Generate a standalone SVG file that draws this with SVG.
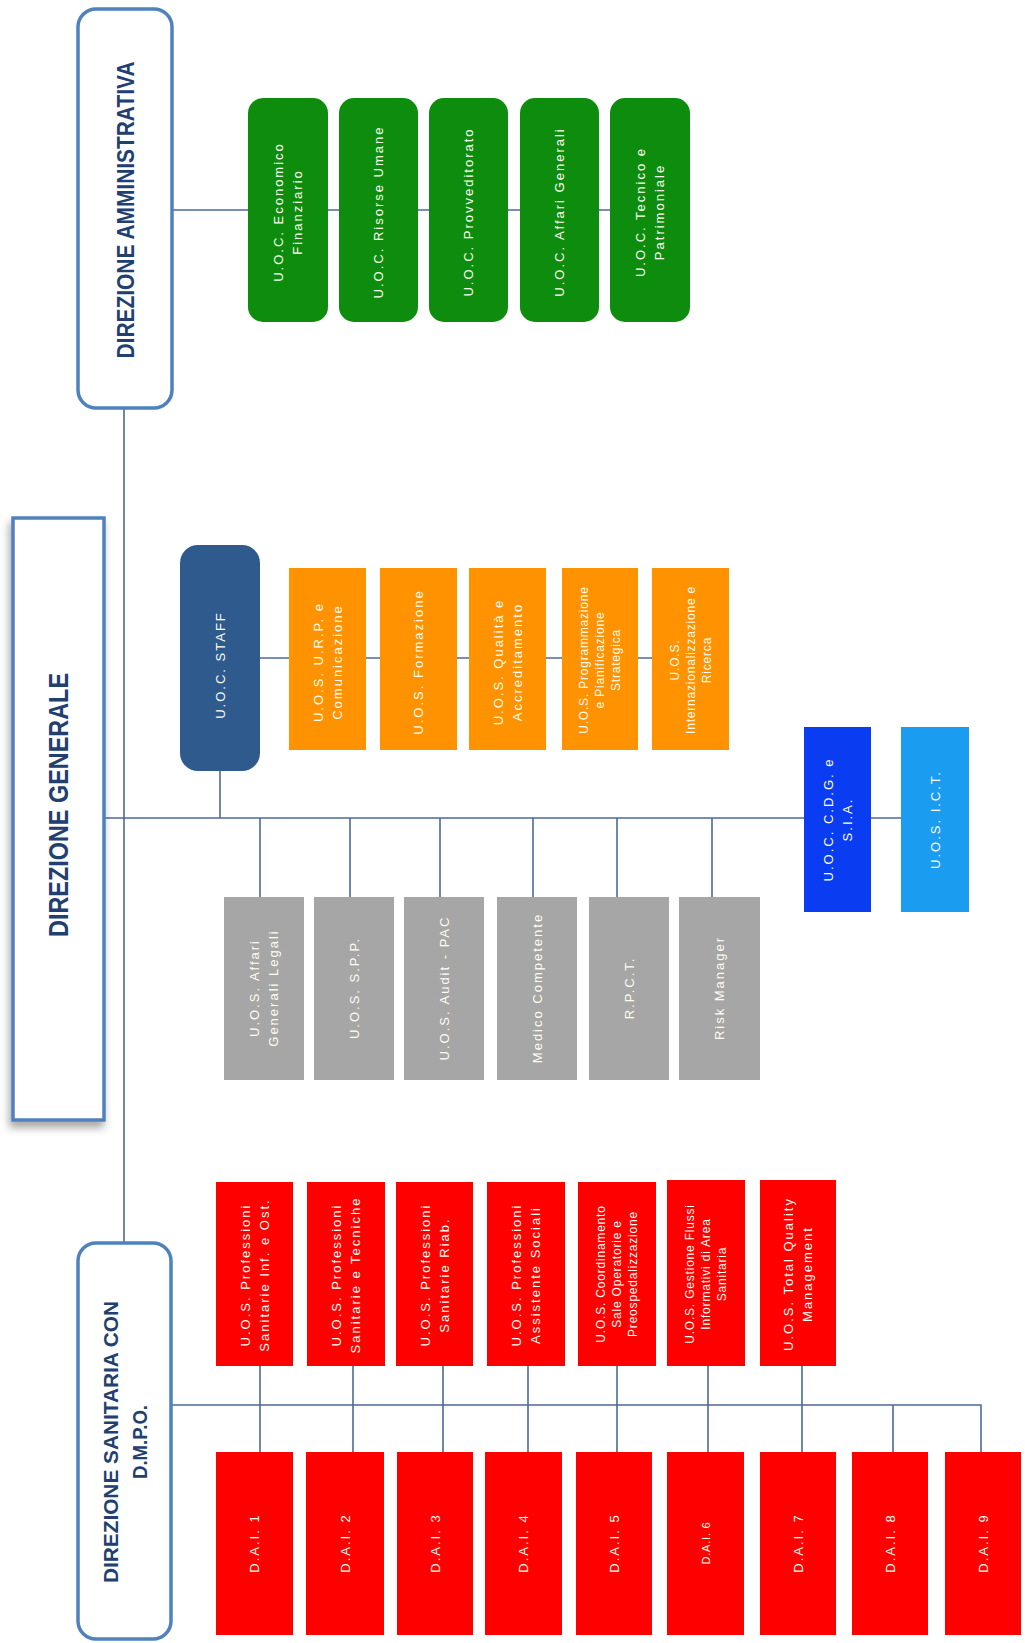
<svg xmlns="http://www.w3.org/2000/svg" width="1025" height="1643" viewBox="0 0 1025 1643">
<defs>
<filter id="sh" x="-30%" y="-10%" width="160%" height="120%">
<feDropShadow dx="-2" dy="6" stdDeviation="4" flood-color="#000" flood-opacity="0.35"/>
</filter>
<filter id="sh2" x="-20%" y="-10%" width="140%" height="120%">
<feDropShadow dx="1" dy="2" stdDeviation="1.5" flood-color="#000" flood-opacity="0.25"/>
</filter>
</defs>
<style>
.hdr{fill:#fff;stroke:#4f81bd;stroke-width:3.5}
.ht{font-family:"Liberation Sans",Arial,sans-serif;font-weight:bold;fill:#22406f;text-anchor:middle}
.t{font-family:"Liberation Sans",Arial,sans-serif;font-size:13px;letter-spacing:2px;fill:#fffdf2;text-anchor:middle}
.t3{font-family:"Liberation Sans",Arial,sans-serif;font-size:12px;letter-spacing:0.8px;fill:#fffdf2;text-anchor:middle}
.green{fill:#0d8c0d}
.orange{fill:#ff9200}
.gray{fill:#a6a6a6}
.red{fill:#ff0000}
.staff{fill:#2f5a8e}
.cdg{fill:#0a3cf2}
.ict{fill:#1a9cf0}
.cn{stroke:#4a6a9c;stroke-width:1.6;fill:none}
</style>

<g id="connectors">
<path class="cn" d="M124 408 V1243"/>
<path class="cn" d="M172 210 H610"/>
<path class="cn" d="M104 818 H901"/>
<path class="cn" d="M220 771 V818"/>
<path class="cn" d="M259 658 H652"/>
<path class="cn" d="M260 818 V897 M350 818 V897 M440 818 V897 M533 818 V897 M617 818 V897 M712 818 V897"/>
<path class="cn" d="M171 1405 H981 V1452"/>
<path class="cn" d="M260 1366 V1452 M353 1366 V1452 M443 1366 V1452 M528 1366 V1452 M617 1366 V1452 M708 1366 V1452 M802 1366 V1452 M893 1405 V1452"/>
</g>

<g id="dir-amministrativa">
<rect class="hdr" x="78" y="9" width="94" height="399" rx="18"/>
<text class="ht" font-size="24" transform="translate(125,210) rotate(-90)" y="8.6" textLength="297" lengthAdjust="spacingAndGlyphs">DIREZIONE AMMINISTRATIVA</text>
</g>

<g id="dir-generale">
<rect class="hdr" x="13" y="518" width="91" height="602" filter="url(#sh)"/>
<text class="ht" font-size="28" transform="translate(58,805) rotate(-90)" y="10" textLength="264" lengthAdjust="spacingAndGlyphs">DIREZIONE GENERALE</text>
</g>

<g id="dir-sanitaria">
<rect class="hdr" x="78" y="1243" width="93" height="396" rx="18"/>
<text class="ht" font-size="21" transform="translate(124.5,1442) rotate(-90)"><tspan x="0" y="-7" textLength="282" lengthAdjust="spacingAndGlyphs">DIREZIONE SANITARIA CON</tspan><tspan x="0" y="22" textLength="74" lengthAdjust="spacingAndGlyphs">D.M.P.O.</tspan></text>
</g>

<g id="uoc-economico">
<rect class="green" x="248" y="98" width="80" height="224" rx="15"/>
<text class="t" transform="translate(288,212) rotate(-90)"><tspan x="0" y="-5">U.O.C. Economico</tspan><tspan x="0" y="14">Finanziario</tspan></text>
</g>
<g id="uoc-risorse">
<rect class="green" x="339" y="98" width="79" height="224" rx="15"/>
<text class="t" transform="translate(378.5,212) rotate(-90)" y="4.6">U.O.C. Risorse Umane</text>
</g>
<g id="uoc-provveditorato">
<rect class="green" x="429" y="98" width="79" height="224" rx="15"/>
<text class="t" transform="translate(468.5,212) rotate(-90)" y="4.6">U.O.C. Provveditorato</text>
</g>
<g id="uoc-affari">
<rect class="green" x="520" y="98" width="79" height="224" rx="15"/>
<text class="t" transform="translate(559.5,212) rotate(-90)" y="4.6">U.O.C. Affari Generali</text>
</g>
<g id="uoc-tecnico">
<rect class="green" x="610" y="98" width="80" height="224" rx="15"/>
<text class="t" transform="translate(650,212) rotate(-90)"><tspan x="0" y="-5">U.O.C. Tecnico e</tspan><tspan x="0" y="14">Patrimoniale</tspan></text>
</g>

<g id="uoc-staff">
<rect class="staff" x="180" y="545" width="80" height="226" rx="18"/>
<text class="t" transform="translate(220,665) rotate(-90)" y="4.6">U.O.C. STAFF</text>
</g>

<g id="uos-urp">
<rect class="orange" x="289" y="568" width="77" height="182"/>
<text class="t" transform="translate(327.5,662) rotate(-90)"><tspan x="0" y="-5">U.O.S. U.R.P. e</tspan><tspan x="0" y="14">Comunicazione</tspan></text>
</g>
<g id="uos-formazione">
<rect class="orange" x="380" y="568" width="77" height="182"/>
<text class="t" transform="translate(418.5,662) rotate(-90)" y="4.6">U.O.S. Formazione</text>
</g>
<g id="uos-qualita">
<rect class="orange" x="469" y="568" width="77" height="182"/>
<text class="t" transform="translate(507.5,662) rotate(-90)"><tspan x="0" y="-5">U.O.S. Qualità e</tspan><tspan x="0" y="14">Accreditamento</tspan></text>
</g>
<g id="uos-programmazione">
<rect class="orange" x="562" y="568" width="76" height="182"/>
<text class="t3" transform="translate(600,660) rotate(-90)"><tspan x="0" y="-11.7">U.O.S. Programmazione</tspan><tspan x="0" y="4.3">e Pianificazione</tspan><tspan x="0" y="20.3">Strategica</tspan></text>
</g>
<g id="uos-internazionalizzazione">
<rect class="orange" x="652" y="568" width="77" height="182"/>
<text class="t3" transform="translate(690.5,660) rotate(-90)"><tspan x="0" y="-11.7">U.O.S.</tspan><tspan x="0" y="4.3">Internazionalizzazione e</tspan><tspan x="0" y="20.3">Ricerca</tspan></text>
</g>

<g id="uos-affari-legali">
<rect class="gray" x="224" y="897" width="80" height="183"/>
<text class="t" transform="translate(264,988) rotate(-90)"><tspan x="0" y="-5">U.O.S. Affari</tspan><tspan x="0" y="14">Generali Legali</tspan></text>
</g>
<g id="uos-spp">
<rect class="gray" x="314" y="897" width="80" height="183"/>
<text class="t" transform="translate(354,988) rotate(-90)" y="4.6">U.O.S. S.P.P.</text>
</g>
<g id="uos-audit">
<rect class="gray" x="404" y="897" width="80" height="183"/>
<text class="t" transform="translate(444,988) rotate(-90)" y="4.6">U.O.S. Audit - PAC</text>
</g>
<g id="medico-competente">
<rect class="gray" x="497" y="897" width="80" height="183"/>
<text class="t" transform="translate(537,988) rotate(-90)" y="4.6">Medico Competente</text>
</g>
<g id="rpct">
<rect class="gray" x="589" y="897" width="80" height="183"/>
<text class="t" transform="translate(629,988) rotate(-90)" y="4.6">R.P.C.T.</text>
</g>
<g id="risk-manager">
<rect class="gray" x="679" y="897" width="81" height="183"/>
<text class="t" transform="translate(719.5,988) rotate(-90)" y="4.6">Risk Manager</text>
</g>

<g id="uoc-cdg">
<rect class="cdg" x="804" y="727" width="67" height="185"/>
<text class="t" transform="translate(837.5,819.5) rotate(-90)"><tspan x="0" y="-5">U.O.C. C.D.G. e</tspan><tspan x="0" y="14">S.I.A.</tspan></text>
</g>
<g id="uos-ict">
<rect class="ict" x="901" y="727" width="68" height="185"/>
<text class="t" transform="translate(935,819.5) rotate(-90)" y="4.6">U.O.S. I.C.T.</text>
</g>

<g id="uos-prof-inf">
<rect class="red" x="216" y="1182" width="77" height="184"/>
<text class="t" transform="translate(255,1275) rotate(-90)"><tspan x="0" y="-5">U.O.S. Professioni</tspan><tspan x="0" y="14">Sanitarie Inf. e Ost.</tspan></text>
</g>
<g id="uos-prof-tec">
<rect class="red" x="307" y="1182" width="78" height="184"/>
<text class="t" transform="translate(346,1275) rotate(-90)"><tspan x="0" y="-5">U.O.S. Professioni</tspan><tspan x="0" y="14">Sanitarie e Tecniche</tspan></text>
</g>
<g id="uos-prof-riab">
<rect class="red" x="396" y="1182" width="77" height="184"/>
<text class="t" transform="translate(434.5,1275) rotate(-90)"><tspan x="0" y="-5">U.O.S. Professioni</tspan><tspan x="0" y="14">Sanitarie Riab.</tspan></text>
</g>
<g id="uos-prof-soc">
<rect class="red" x="487" y="1182" width="78" height="184"/>
<text class="t" transform="translate(526,1275) rotate(-90)"><tspan x="0" y="-5">U.O.S. Professioni</tspan><tspan x="0" y="14">Assistente Sociali</tspan></text>
</g>
<g id="uos-coordinamento">
<rect class="red" x="578" y="1182" width="78" height="184"/>
<text class="t3" transform="translate(617,1274) rotate(-90)"><tspan x="0" y="-11.7">U.O.S. Coordinamento</tspan><tspan x="0" y="4.3">Sale Operatorie e</tspan><tspan x="0" y="20.3">Preospedalizzazione</tspan></text>
</g>
<g id="uos-flussi">
<rect class="red" x="667" y="1180" width="78" height="186"/>
<text class="t3" transform="translate(706,1274) rotate(-90)"><tspan x="0" y="-11.7">U.O.S. Gestione Flussi</tspan><tspan x="0" y="4.3">Informativi di Area</tspan><tspan x="0" y="20.3">Sanitaria</tspan></text>
</g>
<g id="uos-tqm">
<rect class="red" x="760" y="1180" width="76" height="186"/>
<text class="t" transform="translate(798,1274) rotate(-90)"><tspan x="0" y="-5">U.O.S. Total Quality</tspan><tspan x="0" y="14">Management</tspan></text>
</g>

<g id="dai-1"><rect class="red" x="216" y="1452" width="77" height="183"/><text class="t" transform="translate(254.5,1543) rotate(-90)" y="4.6">D.A.I. 1</text></g>
<g id="dai-2"><rect class="red" x="306" y="1452" width="78" height="183"/><text class="t" transform="translate(345,1543) rotate(-90)" y="4.6">D.A.I. 2</text></g>
<g id="dai-3"><rect class="red" x="397" y="1452" width="76" height="183"/><text class="t" transform="translate(435,1543) rotate(-90)" y="4.6">D.A.I. 3</text></g>
<g id="dai-4"><rect class="red" x="485" y="1452" width="77" height="183"/><text class="t" transform="translate(523.5,1543) rotate(-90)" y="4.6">D.A.I. 4</text></g>
<g id="dai-5"><rect class="red" x="576" y="1452" width="76" height="183"/><text class="t" transform="translate(614,1543) rotate(-90)" y="4.6">D.A.I. 5</text></g>
<g id="dai-6"><rect class="red" x="667" y="1452" width="77" height="183"/><text class="t3" style="font-size:11px" transform="translate(705.5,1543) rotate(-90)" y="4">D.A.I. 6</text></g>
<g id="dai-7"><rect class="red" x="760" y="1452" width="76" height="183"/><text class="t" transform="translate(798,1543) rotate(-90)" y="4.6">D.A.I. 7</text></g>
<g id="dai-8"><rect class="red" x="852" y="1452" width="76" height="183"/><text class="t" transform="translate(890,1543) rotate(-90)" y="4.6">D.A.I. 8</text></g>
<g id="dai-9"><rect class="red" x="945" y="1452" width="76" height="183"/><text class="t" transform="translate(983,1543) rotate(-90)" y="4.6">D.A.I. 9</text></g>
</svg>
